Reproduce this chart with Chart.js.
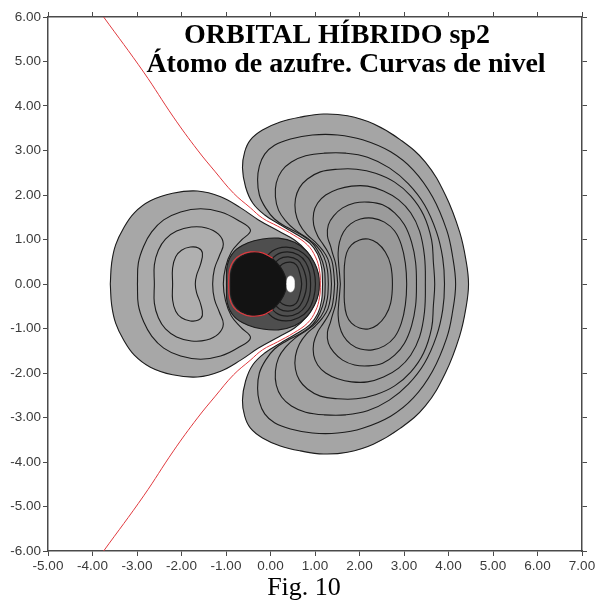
<!DOCTYPE html>
<html>
<head>
<meta charset="utf-8">
<script src="https://cdn.jsdelivr.net/npm/chart.js@4.4.1/dist/chart.umd.min.js"></script>
<style>
  html, body { margin: 0; padding: 0; background: #fff; }
  canvas { display: block; }
</style>
</head>
<body>
<canvas id="c" width="616" height="601"></canvas>
<script>
// Axis ranges and tick labels
const X_TICKS = [-5, -4, -3, -2, -1, 0, 1, 2, 3, 4, 5, 6, 7];
const Y_TICKS = [-6, -5, -4, -3, -2, -1, 0, 1, 2, 3, 4, 5, 6];
const TITLE_LINES = ['ORBITAL HÍBRIDO sp2', 'Átomo de azufre. Curvas de nivel'];
const CAPTION = 'Fig. 10';

// Level curves, upper half (y >= 0); the figure is symmetric about y = 0.
// Right lobe, outermost to innermost.
const R1 = [[1.17,0],[1.15,0.36],[1.06,0.67],[0.88,0.92],[0.58,1.12],[0.22,1.33],[-0.13,1.55],[-0.40,1.82],[-0.56,2.18],[-0.63,2.61],[-0.58,2.97],[-0.45,3.24],[-0.18,3.46],[0.22,3.64],[0.67,3.75],[1.19,3.82],[1.73,3.78],[2.31,3.60],[2.92,3.24],[3.48,2.74],[3.93,2.00],[4.25,1.17],[4.40,0.49],[4.45,0]];
const R2 = [[1.23,0],[1.21,0.34],[1.11,0.65],[0.94,0.92],[0.67,1.12],[0.36,1.28],[0.09,1.46],[-0.11,1.71],[-0.25,2.00],[-0.29,2.34],[-0.25,2.65],[-0.13,2.92],[0.09,3.12],[0.45,3.26],[0.94,3.35],[1.51,3.35],[2.07,3.24],[2.70,2.97],[3.21,2.56],[3.64,1.96],[3.96,1.21],[4.09,0.63],[4.16,0]];
const R3 = [[1.30,0],[1.28,0.31],[1.20,0.61],[1.04,0.85],[0.83,1.03],[0.56,1.21],[0.34,1.42],[0.18,1.66],[0.11,1.96],[0.13,2.27],[0.25,2.54],[0.47,2.74],[0.79,2.88],[1.21,2.94],[1.69,2.94],[2.18,2.85],[2.67,2.61],[3.10,2.25],[3.46,1.78],[3.73,1.17],[3.87,0.58],[3.91,0]];
const R4 = [[1.37,0],[1.35,0.29],[1.29,0.56],[1.17,0.76],[1.01,0.94],[0.81,1.12],[0.65,1.35],[0.56,1.62],[0.56,1.91],[0.65,2.16],[0.83,2.36],[1.12,2.52],[1.51,2.58],[1.93,2.58],[2.36,2.49],[2.79,2.29],[3.15,1.98],[3.44,1.55],[3.62,0.99],[3.66,0.49],[3.69,0]];
const R5 = [[1.44,0],[1.42,0.27],[1.38,0.52],[1.29,0.72],[1.19,0.88],[1.06,1.08],[0.97,1.33],[0.97,1.60],[1.06,1.82],[1.24,2.00],[1.51,2.13],[1.82,2.20],[2.18,2.20],[2.54,2.09],[2.88,1.89],[3.15,1.60],[3.35,1.19],[3.46,0.63],[3.48,0]];
const R6 = [[1.51,0],[1.49,0.25],[1.46,0.47],[1.40,0.67],[1.35,0.85],[1.28,1.08],[1.30,1.33],[1.42,1.53],[1.62,1.71],[1.89,1.82],[2.20,1.84],[2.52,1.78],[2.79,1.60],[3.01,1.33],[3.17,0.94],[3.26,0.49],[3.28,0]];
const R7 = [[1.57,0],[1.55,0.25],[1.53,0.47],[1.52,0.70],[1.55,0.94],[1.64,1.17],[1.80,1.35],[2.02,1.46],[2.29,1.48],[2.56,1.39],[2.79,1.19],[2.94,0.88],[3.03,0.47],[3.06,0]];
const R8 = [[1.66,0],[1.66,0.40],[1.71,0.70],[1.82,0.88],[2.00,0.99],[2.20,1.01],[2.40,0.92],[2.58,0.72],[2.70,0.43],[2.74,0]];

// Left lobe, outermost to innermost.
const L1 = [[-3.60,0],[-3.57,0.47],[-3.48,0.88],[-3.30,1.26],[-3.06,1.60],[-2.70,1.87],[-2.20,2.04],[-1.64,2.09],[-1.12,1.96],[-0.67,1.71],[-0.27,1.44],[0.18,1.19],[0.54,0.99],[0.81,0.74],[0.97,0.49],[1.06,0.25],[1.08,0]];
const L2 = [[-2.99,0],[-2.97,0.47],[-2.85,0.85],[-2.67,1.17],[-2.40,1.44],[-2.02,1.62],[-1.57,1.69],[-1.12,1.62],[-0.74,1.44],[-0.45,1.21],[-0.67,0.97],[-0.88,0.72],[-1.01,0.38],[-1.06,0]];
const L3 = [[-2.61,0],[-2.61,0.43],[-2.52,0.76],[-2.36,1.01],[-2.11,1.19],[-1.78,1.28],[-1.44,1.26],[-1.17,1.12],[-1.06,0.90],[-1.15,0.63],[-1.26,0.34],[-1.30,0]];
const L4 = [[-2.20,0],[-2.20,0.36],[-2.13,0.61],[-2.00,0.76],[-1.80,0.83],[-1.62,0.81],[-1.53,0.70],[-1.57,0.45],[-1.66,0.20],[-1.69,0]];

// Tightly packed levels around the nucleus
const CORE_RING = [[-0.99,0],[-0.97,0.43],[-0.81,0.74],[-0.52,0.92],[-0.18,1.01],[0.18,1.03],[0.54,0.94],[0.81,0.74],[0.99,0.47],[1.08,0.22],[1.10,0]];
const CORE_A = [[-0.18,0],[-0.13,0.49],[0.04,0.74],[0.34,0.83],[0.63,0.76],[0.85,0.58],[0.97,0.31],[1.01,0]];
const CORE_B = [[-0.09,0],[-0.04,0.43],[0.13,0.65],[0.38,0.72],[0.63,0.65],[0.79,0.49],[0.88,0.25],[0.90,0]];
const CORE_C = [[0,0],[0.04,0.36],[0.20,0.56],[0.40,0.61],[0.61,0.54],[0.72,0.38],[0.79,0.18],[0.81,0]];
const CORE_D = [[0.09,0],[0.13,0.29],[0.27,0.45],[0.45,0.49],[0.58,0.43],[0.65,0.27],[0.70,0]];
const CORE_DARK = [[-0.90,0],[-0.88,0.31],[-0.76,0.54],[-0.56,0.67],[-0.31,0.72],[-0.07,0.65],[0.13,0.49],[0.29,0.27],[0.36,0]];
const CORE_PEAK = [[0.36,0],[0.38,0.13],[0.45,0.18],[0.52,0.13],[0.54,0]];

// Nodal lines (psi = 0)
const NODE_OUTER = [[-3.75,6.0],[-2.85,4.76],[-2.18,3.75],[-1.64,3.01],[-1.24,2.52],[-0.83,2.04],[-0.45,1.71],[-0.18,1.48],[0.16,1.30],[0.52,1.10],[0.83,0.88],[1.01,0.61],[1.10,0.31],[1.12,0]];
const NODE_INNER = [[0.05,0.58],[-0.18,0.70],[-0.45,0.72],[-0.67,0.65],[-0.83,0.52],[-0.92,0.31],[-0.94,0]];

// Upper half + its reflection below the x axis
function reflect(half) {
  const pts = half.map(([x, y]) => ({ x, y }));
  const lower = half.slice(0, -1).reverse().map(([x, y]) => ({ x, y: -y }));
  return pts.concat(lower);
}

const LINE = '#1c1c1c';
function level(half, fillColor, width) {
  return {
    data: reflect(half), showLine: true, pointRadius: 0, tension: 0.4,
    fill: fillColor ? 'shape' : false, backgroundColor: fillColor || 'transparent',
    borderColor: LINE, borderWidth: width || 1.1
  };
}

const layers = [
  level(R1, '#a5a5a5'), level(R2, '#a3a3a3'), level(R3, '#a1a1a1'), level(R4, '#9f9f9f'),
  level(R5, '#9d9d9d'), level(R6, '#9b9b9b'), level(R7, '#999999'), level(R8, '#959595'),
  level(L1, '#a7a7a7'), level(L2, '#aaaaaa'), level(L3, '#adadad'), level(L4, '#b0b0b0'),
  level(CORE_RING, '#4e4e4e'),
  level(CORE_A, null, 1.2), level(CORE_B, null, 1.2), level(CORE_C, null, 1.2), level(CORE_D, null, 1.2),
  level(CORE_DARK, '#131313'),
  { data: reflect(CORE_PEAK), showLine: true, pointRadius: 0, tension: 0.4, fill: 'shape',
    backgroundColor: '#ffffff', borderColor: '#ffffff', borderWidth: 0.5 },
  { data: reflect(NODE_OUTER), showLine: true, pointRadius: 0, tension: 0.4, fill: false,
    borderColor: '#e0393e', borderWidth: 1 },
  { data: reflect(NODE_INNER), showLine: true, pointRadius: 0, tension: 0.4, fill: false,
    borderColor: '#e0393e', borderWidth: 1.2 }
];
// first entries are painted first (behind)
layers.forEach((d, i) => { d.order = layers.length - i; });

const AXIS = '#4a4a4a';
function axis(position, min, max, ticks, size, showLabels) {
  return {
    type: 'linear', position, min, max,
    afterBuildTicks: (s) => { s.ticks = ticks.map(v => ({ value: v })); },
    afterFit: (s) => {
      if (position === 'left' || position === 'right') s.width = size; else s.height = size;
    },
    grid: { drawOnChartArea: false, drawTicks: true, tickLength: 5, color: AXIS, lineWidth: 1 },
    border: { display: true, color: AXIS, width: 1.5 },
    ticks: {
      display: showLabels, autoSkip: false, maxRotation: 0, padding: 2,
      color: '#3a3a3a', font: { family: '"Liberation Sans", Arial, sans-serif', size: 13.5 },
      callback: (v) => Number(v).toFixed(2)
    }
  };
}

const textPlugin = {
  id: 'texts',
  afterDraw(chart) {
    const ctx = chart.ctx;
    ctx.save();
    ctx.fillStyle = '#000';
    ctx.textAlign = 'center';
    ctx.textBaseline = 'alphabetic';
    ctx.font = 'bold 28px "Liberation Serif", "Times New Roman", serif';
    ctx.fillText(TITLE_LINES[0], 337, 43);
    ctx.fillText(TITLE_LINES[1], 346, 72);
    ctx.font = '26px "Liberation Serif", "Times New Roman", serif';
    ctx.fillText(CAPTION, 304, 595);
    ctx.restore();
  }
};

new Chart(document.getElementById('c'), {
  type: 'scatter',
  data: { datasets: layers },
  options: {
    responsive: false, animation: false, devicePixelRatio: 1,
    layout: { padding: 0 },
    plugins: { legend: { display: false }, tooltip: { enabled: false } },
    scales: {
      x: axis('bottom', -5, 7, X_TICKS, 50, true),
      y: axis('left', -6, 6, Y_TICKS, 48, true),
      x2: axis('top', -5, 7, X_TICKS, 17, false),
      y2: axis('right', -6, 6, Y_TICKS, 34, false)
    }
  },
  plugins: [textPlugin]
});
</script>
</body>
</html>
